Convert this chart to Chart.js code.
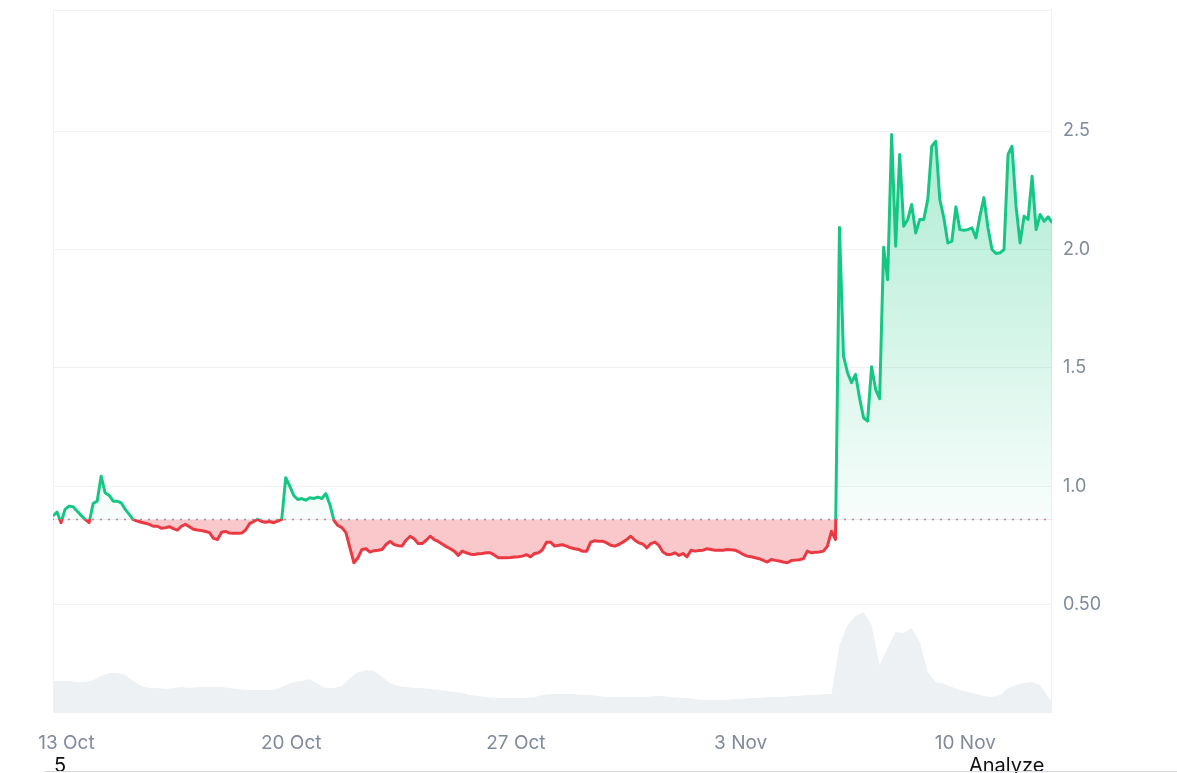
<!DOCTYPE html>
<html>
<head>
<meta charset="utf-8">
<script src="https://cdn.jsdelivr.net/npm/chart.js@4.4.1/dist/chart.umd.min.js"></script>
<style>
  html, body { margin: 0; padding: 0; background: #fff; }
  #wrap { position: relative; width: 1177px; height: 773px; overflow: hidden; font-family: Inter, sans-serif; }
  #chart { position: absolute; left: 0; top: 0; }
  .foot { position: absolute; top: 753px; font-size: 20px; line-height: 24px; color: #111; }
  #rule { position: absolute; left: 45px; right: 0; top: 771px; height: 1px; background: #d5d9e0; }
</style>
</head>
<body>
<div id="wrap">
  <canvas id="chart" width="1177" height="773"></canvas>
  <div class="foot" style="left:54px">5</div>
  <div class="foot" style="left:969px">Analyze</div>
  <div id="rule"></div>
</div>
<script>
// time axis in days counted from 13 Oct 00:00
const startDay = -0.42;
const endDay = 30.7;
const priceStep = 0.125; // 3 h
const volumeStep = 0.25; // 6 h
const openPrice = 0.861;

const tickDays = [0, 7, 14, 21, 28];
const tickLabels = ['13 Oct', '20 Oct', '27 Oct', '3 Nov', '10 Nov'];
const priceTicks = [0.5, 1.0, 1.5, 2.0, 2.5];
const priceTickLabels = ['0.50', '1.0', '1.5', '2.0', '2.5'];

const prices = [
  0.875, 0.892, 0.847, 0.903, 0.917, 0.914, 0.896, 0.878, 0.861, 0.847,
  0.928, 0.938, 1.043, 0.973, 0.962, 0.938, 0.938, 0.931, 0.903, 0.882,
  0.860, 0.854, 0.849, 0.845, 0.840, 0.832, 0.832, 0.824, 0.826, 0.830,
  0.822, 0.816, 0.832, 0.840, 0.830, 0.819, 0.816, 0.814, 0.810, 0.805,
  0.781, 0.776, 0.807, 0.810, 0.803, 0.802, 0.802, 0.803, 0.816, 0.843,
  0.852, 0.861, 0.852, 0.849, 0.852, 0.847, 0.854, 0.861, 1.037, 1.001,
  0.962, 0.945, 0.949, 0.942, 0.952, 0.949, 0.955, 0.949, 0.970, 0.924,
  0.857, 0.835, 0.826, 0.805, 0.741, 0.678, 0.699, 0.734, 0.737, 0.723,
  0.729, 0.731, 0.734, 0.755, 0.768, 0.755, 0.750, 0.749, 0.773, 0.790,
  0.779, 0.759, 0.759, 0.773, 0.790, 0.776, 0.768, 0.757, 0.746, 0.737,
  0.727, 0.709, 0.727, 0.720, 0.714, 0.713, 0.716, 0.717, 0.720, 0.720,
  0.710, 0.699, 0.699, 0.699, 0.700, 0.702, 0.703, 0.706, 0.712, 0.703,
  0.717, 0.720, 0.734, 0.765, 0.765, 0.748, 0.752, 0.754, 0.748, 0.741,
  0.737, 0.734, 0.726, 0.727, 0.765, 0.771, 0.769, 0.769, 0.762, 0.752,
  0.748, 0.755, 0.765, 0.776, 0.790, 0.773, 0.762, 0.757, 0.741, 0.759,
  0.765, 0.751, 0.723, 0.713, 0.713, 0.720, 0.709, 0.717, 0.703, 0.731,
  0.727, 0.730, 0.731, 0.737, 0.734, 0.731, 0.731, 0.731, 0.734, 0.733,
  0.731, 0.723, 0.713, 0.706, 0.703, 0.699, 0.695, 0.688, 0.681, 0.692,
  0.688, 0.685, 0.681, 0.678, 0.687, 0.689, 0.691, 0.695, 0.727, 0.720,
  0.722, 0.723, 0.727, 0.748, 0.811, 0.776, 2.093, 1.550, 1.480, 1.438,
  1.473, 1.374, 1.290, 1.276, 1.505, 1.410, 1.370, 2.010, 1.873, 2.485,
  2.014, 2.401, 2.098, 2.127, 2.190, 2.070, 2.127, 2.127, 2.211, 2.436,
  2.457, 2.211, 2.134, 2.028, 2.035, 2.180, 2.084, 2.081, 2.084, 2.092,
  2.049, 2.141, 2.219, 2.092, 2.000, 1.983, 1.986, 2.000, 2.401, 2.436,
  2.183, 2.028, 2.141, 2.127, 2.309, 2.084, 2.148, 2.119, 2.138, 2.113
];

// volume, millions
const volumes = [
  3.1, 3.1, 3.1, 3.0, 3.0, 3.2, 3.6, 3.9, 3.9, 3.7,
  3.1, 2.6, 2.4, 2.4, 2.3, 2.4, 2.5, 2.4, 2.5, 2.5,
  2.5, 2.5, 2.4, 2.3, 2.2, 2.2, 2.2, 2.2, 2.3, 2.7,
  3.0, 3.1, 3.3, 2.8, 2.4, 2.4, 2.6, 3.4, 4.0, 4.2,
  4.1, 3.5, 2.9, 2.6, 2.5, 2.4, 2.4, 2.3, 2.2, 2.1,
  2.0, 1.9, 1.7, 1.6, 1.5, 1.4, 1.4, 1.4, 1.4, 1.4,
  1.5, 1.7, 1.8, 1.8, 1.8, 1.8, 1.7, 1.7, 1.6, 1.5,
  1.5, 1.5, 1.5, 1.5, 1.5, 1.6, 1.6, 1.5, 1.4, 1.4,
  1.3, 1.2, 1.2, 1.2, 1.2, 1.3, 1.3, 1.4, 1.4, 1.5,
  1.5, 1.5, 1.6, 1.6, 1.7, 1.7, 1.8, 1.8, 6.7, 8.7,
  9.6, 10.0, 8.7, 4.7, 6.4, 8.0, 7.9, 8.4, 7.0, 4.0,
  3.0, 2.8, 2.5, 2.2, 2.0, 1.8, 1.6, 1.5, 1.7, 2.4,
  2.7, 2.9, 3.0, 2.7, 1.5, 0.7
];

const GREEN = '#16c784';
const RED = '#ea3943';
const LABEL = '#808a9d';
const GRID = '#eff2f5';

// green above the open price, red below
function splitGradient(chart, kind) {
  const { ctx, chartArea, scales } = chart;
  if (!chartArea) return kind === 'line' ? GREEN : 'rgba(0,0,0,0)';
  const top = chartArea.top, bottom = chartArea.bottom;
  const r = Math.min(1, Math.max(0, (scales.y.getPixelForValue(openPrice) - top) / (bottom - top)));
  const g = ctx.createLinearGradient(0, top, 0, bottom);
  if (kind === 'line') {
    g.addColorStop(0, GREEN);
    g.addColorStop(r, GREEN);
    g.addColorStop(r, RED);
    g.addColorStop(1, RED);
  } else {
    g.addColorStop(0, 'rgba(22,199,132,0.45)');
    g.addColorStop(r, 'rgba(22,199,132,0.03)');
    g.addColorStop(r, 'rgba(234,57,67,0.28)');
    g.addColorStop(1, 'rgba(234,57,67,0.28)');
  }
  return g;
}

const boxPlugin = {
  id: 'box',
  beforeDatasetsDraw(chart) {
    const { ctx, chartArea: a } = chart;
    ctx.save();
    ctx.strokeStyle = GRID;
    ctx.lineWidth = 1;
    ctx.strokeRect(a.left + 0.5, a.top + 0.5, a.right - a.left - 1, a.bottom - a.top);
    ctx.restore();
  }
};

function noPad(s) {
  s.paddingTop = 0;
  s.paddingBottom = 0;
  s.paddingLeft = 0;
  s.paddingRight = 0;
}

new Chart(document.getElementById('chart'), {
  type: 'line',
  data: {
    datasets: [
      {
        label: 'open',
        data: [{ x: startDay, y: openPrice }, { x: endDay, y: openPrice }],
        yAxisID: 'y',
        borderColor: '#8a919e',
        borderWidth: 2,
        borderDash: [0, 8],
        borderCapStyle: 'round',
        pointRadius: 0,
        fill: false,
        order: 0
      },
      {
        label: 'Price',
        data: prices.map((p, i) => ({ x: startDay + i * priceStep, y: p })),
        yAxisID: 'y',
        borderColor: (c) => splitGradient(c.chart, 'line'),
        backgroundColor: (c) => splitGradient(c.chart, 'fill'),
        borderWidth: 3,
        borderJoinStyle: 'round',
        pointRadius: 0,
        tension: 0,
        fill: { target: { value: openPrice } },
        order: 1
      },
      {
        label: 'Volume',
        data: volumes.map((v, j) => ({ x: startDay + j * volumeStep, y: v })),
        yAxisID: 'yv',
        borderWidth: 0,
        backgroundColor: '#eef1f4',
        pointRadius: 0,
        tension: 0,
        fill: 'start',
        order: 3
      }
    ]
  },
  options: {
    responsive: false,
    animation: false,
    layout: { padding: { left: 53, top: 10, right: 0, bottom: 0 } },
    plugins: {
      legend: { display: false },
      tooltip: { enabled: false }
    },
    scales: {
      x: {
        type: 'linear',
        min: startDay,
        max: endDay,
        grid: { display: false },
        border: { display: false },
        afterBuildTicks: (s) => { s.ticks = tickDays.map((v) => ({ value: v })); },
        afterFit: (s) => { s.height = 61; noPad(s); },
        ticks: {
          autoSkip: false,
          maxRotation: 0,
          padding: 12,
          color: LABEL,
          font: { family: 'Inter', size: 19 },
          callback: (v) => {
            const k = tickDays.indexOf(v);
            return k >= 0 ? tickLabels[k] : '';
          }
        }
      },
      y: {
        position: 'right',
        min: 0.048,
        max: 3.011,
        grid: { color: GRID, drawTicks: false },
        border: { display: false },
        afterBuildTicks: (s) => { s.ticks = priceTicks.map((v) => ({ value: v })); },
        afterFit: (s) => { s.width = 125; noPad(s); },
        ticks: {
          padding: 11,
          color: LABEL,
          font: { family: 'Inter', size: 18 },
          callback: (v) => {
            const k = priceTicks.indexOf(v);
            return k >= 0 ? priceTickLabels[k] : '';
          }
        }
      },
      yv: {
        display: false,
        min: 0,
        max: 70.2
      }
    }
  },
  plugins: [boxPlugin]
});
</script>
</body>
</html>
